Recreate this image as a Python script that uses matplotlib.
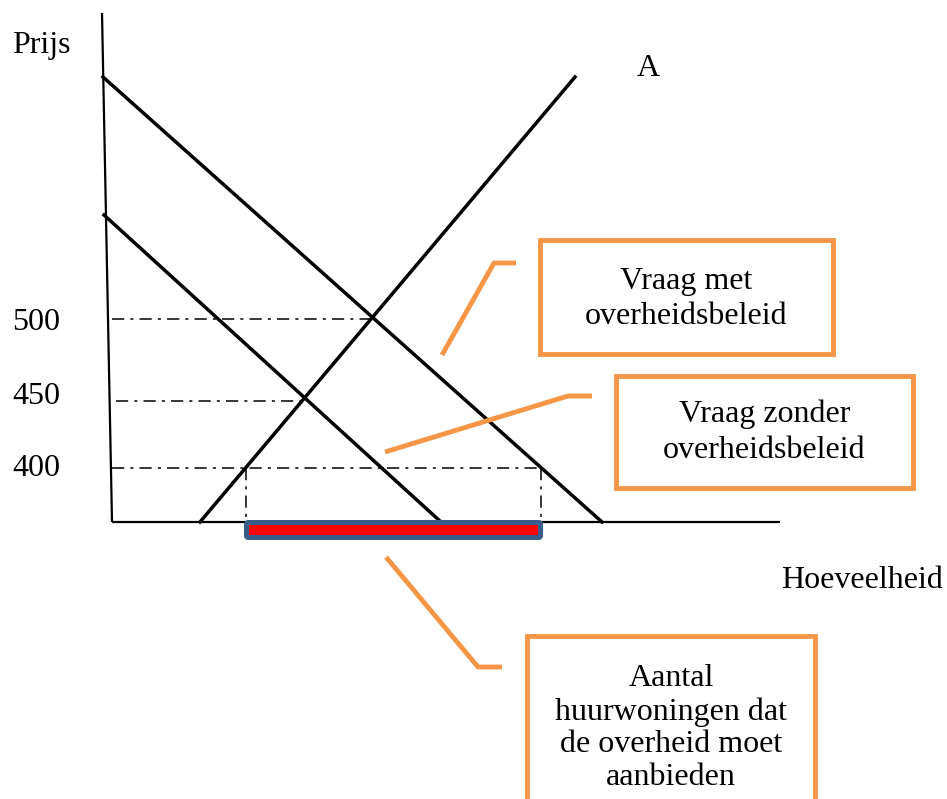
import numpy as np
import matplotlib.pyplot as plt
from matplotlib.patches import Rectangle, FancyBboxPatch

plt.rcParams['font.family'] = ['Liberation Serif', 'DejaVu Serif']

# diagram coordinates (picture units, y grows downwards)
y_axis_x = [102, 112]
y_axis_y = [13, 522]
x_axis_x = [112, 780]
x_axis_y = [522, 522]

supply_x = [200, 575]
supply_y = [522, 77]
demand_met_x = [103, 602]
demand_met_y = [77, 522]
demand_zonder_x = [104, 441]
demand_zonder_y = [215, 522]

price_labels = ['500', '450', '400']
price_y = [319, 401, 468]
price_label_y = [322, 396, 469]
price_line_start = [112, 116, 112]
price_line_end = [372, 304, 541]

shortage_x = [246, 541]  # vertical guides + bar

boxes = [
    # x0, y0, x1, y1, text
    (540, 240, 833, 354, 'Vraag met\noverheidsbeleid'),
    (616, 376, 913, 488, 'Vraag zonder\noverheidsbeleid'),
    (527, 636, 815, 806, 'Aantal\nhuurwoningen dat\nde overheid moet\naanbieden'),
]
box_text_y = [299, 432, 728]
box_spacing = [1.3, 1.33, 1.16]
leaders = [
    ([442, 494, 516], [355, 263, 263]),
    ([385, 568, 592], [452, 396, 396]),
    ([386, 478, 502], [557, 667, 667]),
]

orange = '#F79646'

fig = plt.figure(figsize=(9.47, 7.99), dpi=100)
ax = fig.add_axes([0, 0, 1, 1])
ax.set_xlim(0, 947)
ax.set_ylim(799, 0)
ax.axis('off')

# axes of the diagram
ax.plot(y_axis_x, y_axis_y, color='black', lw=1.6, solid_capstyle='butt')
ax.plot(x_axis_x, x_axis_y, color='black', lw=1.6, solid_capstyle='butt')

# price guide lines
for py, x0, x1 in zip(price_y, price_line_start, price_line_end):
    ax.plot([x0, x1], [py, py], color='black', lw=1.1, ls=(0, (8, 4, 2, 4)))
for sx in shortage_x:
    ax.plot([sx, sx], [price_y[2], x_axis_y[0]], color='black', lw=1.1, ls=(0, (8, 4, 2, 4)))

# curves
ax.plot(supply_x, supply_y, color='black', lw=2.5)
ax.plot(demand_met_x, demand_met_y, color='black', lw=2.5)
ax.plot(demand_zonder_x, demand_zonder_y, color='black', lw=2.5)

# shortage bar
bar = FancyBboxPatch((shortage_x[0] + 0.5, 522.5), shortage_x[1] - shortage_x[0] - 1, 15,
                     boxstyle='round,pad=0,rounding_size=2',
                     facecolor='#FF0000', edgecolor='#385D8A', lw=3.6, zorder=5)
ax.add_patch(bar)

# labels
ax.text(41, 45, 'Prijs', fontsize=23, ha='center', va='center')
ax.text(648, 68, 'A', fontsize=23, ha='center', va='center')
ax.text(862, 580, 'Hoeveelheid', fontsize=23, ha='center', va='center')
for lab, py in zip(price_labels, price_label_y):
    ax.text(36, py, lab, fontsize=23, ha='center', va='center')

# callouts
for (x0, y0, x1, y1, txt), ty, sp in zip(boxes, box_text_y, box_spacing):
    ax.add_patch(Rectangle((x0, y0), x1 - x0, y1 - y0, facecolor='white',
                           edgecolor=orange, lw=3.5, zorder=4))
    ax.text((x0 + x1) / 2, ty, txt, fontsize=23, ha='center', va='center',
            linespacing=sp, zorder=6)
for lx, ly in leaders:
    ax.plot(lx, ly, color=orange, lw=3.5, solid_capstyle='butt', zorder=4)

fig.savefig('out.png', dpi=100)
